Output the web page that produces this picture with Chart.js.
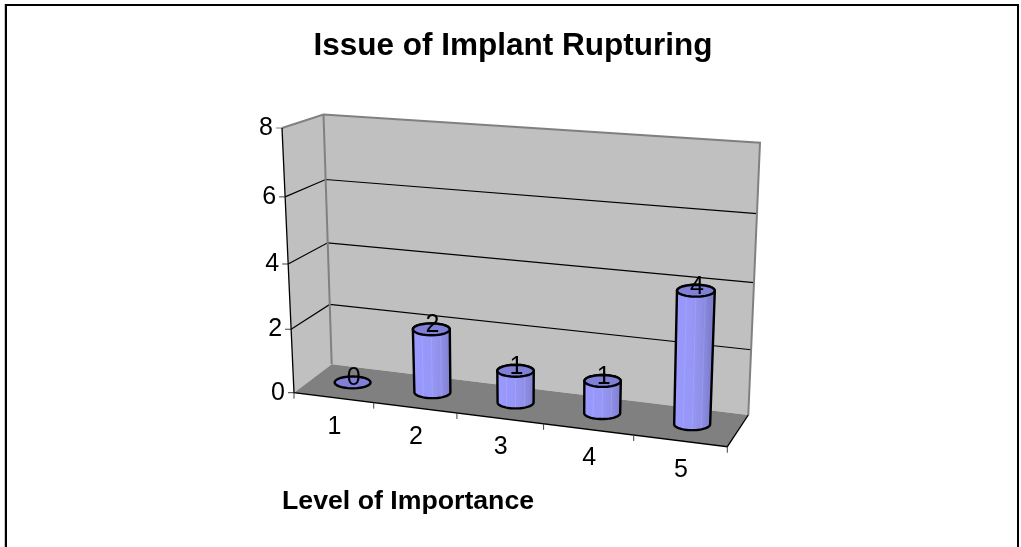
<!DOCTYPE html>
<html>
<head>
<meta charset="utf-8">
<style>html,body{margin:0;padding:0;background:#fff}</style>
<script src="https://cdn.jsdelivr.net/npm/chart.js@4"></script>
</head>
<body>
<canvas id="myChart" width="1021" height="547"></canvas>
<script>
const chartTitle = 'Issue of Implant Rupturing'
const xTitle = 'Level of Importance'
const categories = ['1', '2', '3', '4', '5']
const counts = [0, 2, 1, 1, 4]
const yMax = 8
const yStep = 2

// corners of the 3d box: [x, y]
const box = {
    backBL: [331.7, 364.3], backBR: [748.3, 415], backTL: [323.5, 114.5], backTR: [760, 142.7],
    frontBL: [294, 392.7], frontBR: [727.3, 446.7], frontTL: [282, 128], frontTR: [735, 165]
}

function mix(a, b, t){
    return [a[0] + (b[0] - a[0]) * t, a[1] + (b[1] - a[1]) * t]
}

// u: along the categories, v: up the values, w: 0 back wall, 1 front edge
function project(u, v, w){
    const uu = u - 0.1 * u * (1 - u)
    const vv = v - 0.055 * v * (1 - v)
    const back = mix(mix(box.backBL, box.backBR, uu), mix(box.backTL, box.backTR, uu), vv)
    const front = mix(mix(box.frontBL, box.frontBR, uu), mix(box.frontTL, box.frontTR, uu), vv)
    return mix(back, front, w)
}

function poly(ctx, pts, fill, stroke, lw){
    ctx.beginPath()
    pts.forEach((p, i) => i ? ctx.lineTo(p[0], p[1]) : ctx.moveTo(p[0], p[1]))
    if(fill){
        ctx.closePath()
        ctx.fillStyle = fill
        ctx.fill()
    }
    if(stroke){
        ctx.strokeStyle = stroke
        ctx.lineWidth = lw
        ctx.stroke()
    }
}

function ellipseAt(c, rx, ry, from, to){
    const pts = []
    const n = 24
    for(let i = 0; i <= n; i++){
        const a = from + (to - from) * i / n
        pts.push([c[0] + rx * Math.cos(a), c[1] + ry * Math.sin(a)])
    }
    return pts
}

const frame3d = {
    id: 'frame3d',
    beforeDraw(chart){
        const ctx = chart.ctx
        ctx.save()
        ctx.fillStyle = '#c8c8c8'
        ctx.fillRect(4, 4, 1, 543)
        ctx.fillStyle = '#000'
        ctx.fillRect(5, 4, 1014, 2)
        ctx.fillRect(5, 4, 2, 543)
        ctx.fillRect(1017, 4, 2, 543)
        ctx.restore()
    },
    beforeDatasetsDraw(chart){
        const ctx = chart.ctx
        const y = chart.scales.y
        const x = chart.scales.x
        ctx.save()
        // walls and floor
        poly(ctx, [box.backBL, box.backBR, box.backTR, box.backTL], '#c0c0c0')
        poly(ctx, [box.frontBL, box.backBL, box.backTL, box.frontTL], '#c0c0c0')
        poly(ctx, [box.frontBL, box.frontBR, box.backBR, box.backBL], '#808080')

        const frac = val => (y.bottom - y.getPixelForValue(val)) / y.height
        y.ticks.forEach(t => {
            const v = frac(t.value)
            const front = project(0, v, 1)
            if(t.value > 0 && t.value < yMax){
                poly(ctx, [front, project(0, v, 0), project(1, v, 0)], null, '#000', 1.2)
            }
            poly(ctx, [[front[0] - 6, front[1]], front], null, t.value === yMax ? '#808080' : '#404040', 1)
            ctx.fillStyle = '#000'
            ctx.font = '25px "Liberation Sans"'
            ctx.textAlign = 'right'
            ctx.textBaseline = 'middle'
            ctx.fillText(t.label, front[0] - 9, front[1])
        })

        // grey edges
        poly(ctx, [box.frontTL, box.backTL, box.backTR, box.backBR], null, '#808080', 2)
        poly(ctx, [box.backTL, box.backBL], null, '#808080', 2)
        // black edges
        poly(ctx, [box.frontTL, box.frontBL, box.frontBR, box.backBR], null, '#000', 1.3)

        // category ticks and labels
        const n = categories.length
        for(let i = 0; i <= n; i++){
            const p = project(i / n, 0, 1)
            poly(ctx, [p, [p[0], p[1] + 6]], null, '#404040', 1)
        }
        categories.forEach((c, i) => {
            const u = (x.getPixelForValue(i) - x.left) / x.width
            const p = project(u, 0, 1)
            ctx.fillStyle = '#000'
            ctx.font = '25px "Liberation Sans"'
            ctx.textAlign = 'center'
            ctx.textBaseline = 'middle'
            ctx.fillText(c, p[0] + 1, p[1] + 29)
        })
        ctx.font = 'bold 26.7px "Liberation Sans"'
        ctx.textAlign = 'left'
        ctx.textBaseline = 'middle'
        ctx.fillText(xTitle, 282, 502)
        ctx.restore()
    },
    beforeDatasetDraw(chart, args){
        const ctx = chart.ctx
        const x = chart.scales.x
        const y = chart.scales.y
        const bars = args.meta.data
        ctx.save()
        bars.forEach((bar, i) => {
            const u = (bar.x - x.left) / x.width
            const v = (y.bottom - bar.y) / y.height
            const base = project(u, 0, 0.47)
            const top = project(u, v, 0.47)
            const rb = bar.width / 2
            const rt = rb * (1 + 0.1 * v)
            const ry = rb * 0.33
            if(v > 0){
                const grad = ctx.createLinearGradient(base[0] - rb, 0, base[0] + rb, 0)
                grad.addColorStop(0, '#9999ff')
                grad.addColorStop(0.45, '#9797f8')
                grad.addColorStop(0.75, '#8f8fe8')
                grad.addColorStop(1, '#7f7fd0')
                const side = ellipseAt(base, rb, ry, Math.PI, 0)
                    .concat(ellipseAt(top, rt, ry, 0, -Math.PI))
                poly(ctx, side, grad, '#000', 2.4)
                // facet seams
                ;[-0.5, 0, 0.5].forEach(f => {
                    const yb = base[1] + ry * Math.sqrt(1 - f * f)
                    const yt = top[1] + ry * Math.sqrt(1 - f * f)
                    poly(ctx, [[base[0] + rb * f, yb], [top[0] + rt * f, yt]], null, 'rgba(255,255,255,0.1)', 1)
                })
            }
            poly(ctx, ellipseAt(top, rt, ry, 0, Math.PI * 2), '#8080d8', '#000', 2.4)
            ctx.fillStyle = '#000'
            ctx.font = '25px "Liberation Sans"'
            ctx.textAlign = 'center'
            ctx.textBaseline = 'middle'
            ctx.fillText(String(counts[i]), top[0] + 1, top[1] - 4)
        })
        ctx.restore()
        return false
    }
}

new Chart(document.getElementById('myChart'), {
    type: 'bar',
    data: {
        labels: categories,
        datasets: [{
            data: counts,
            backgroundColor: '#9999ff',
            borderWidth: 0,
            barThickness: 36
        }]
    },
    options: {
        responsive: false,
        animation: false,
        layout: { padding: { left: 5, top: 27 } },
        scales: {
            x: { display: false },
            y: { display: false, min: 0, max: yMax, ticks: { stepSize: yStep } }
        },
        plugins: {
            legend: { display: false },
            tooltip: { enabled: false },
            title: {
                display: true,
                text: chartTitle,
                color: '#000',
                font: { family: '"Liberation Sans"', size: 31.5, weight: 'bold' },
                padding: 0
            }
        }
    },
    plugins: [frame3d]
})
</script>
</body>
</html>
